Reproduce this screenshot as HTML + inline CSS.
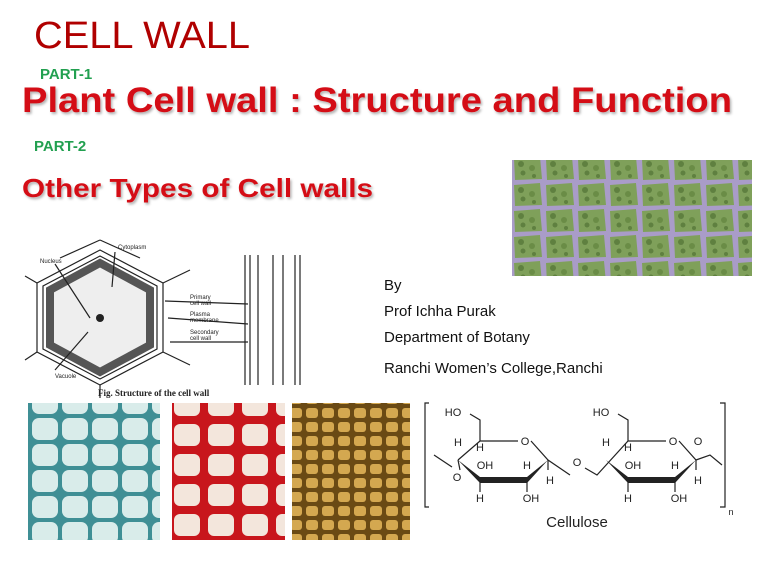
<!DOCTYPE html>
<html><head><meta charset="utf-8"><style>
html,body{margin:0;padding:0;background:#fff;}
svg{display:block;}
text{font-family:"Liberation Sans",Arial,sans-serif;}
</style></head><body>
<svg width="768" height="576" viewBox="0 0 768 576" xmlns="http://www.w3.org/2000/svg">
<defs>
<filter id="sh" x="-5%" y="-20%" width="110%" height="150%"><feDropShadow dx="1.5" dy="2" stdDeviation="1.2" flood-color="#000" flood-opacity="0.3"/></filter>
<pattern id="grn" width="32" height="26" patternUnits="userSpaceOnUse">
<rect width="32" height="26" fill="#a99cc8"/>
<path d="M2 3 L28 1 L30 23 L3 24 Z" fill="#7fa05a"/>
<circle cx="9" cy="8" r="3" fill="#5f8040"/><circle cx="20" cy="12" r="3" fill="#6a8c46"/><circle cx="11" cy="17" r="2.5" fill="#5f8040"/><circle cx="22" cy="20" r="2" fill="#5f8040"/>
</pattern>
<pattern id="teal" width="30" height="26" patternUnits="userSpaceOnUse">
<rect width="30" height="26" fill="#3f8f95"/>
<rect x="2" y="2" width="26" height="22" rx="7" fill="#d9ecea"/>
</pattern>
<pattern id="red" width="34" height="30" patternUnits="userSpaceOnUse">
<rect width="34" height="30" fill="#c8161c"/>
<rect x="4" y="4" width="26" height="22" rx="6" fill="#f3e6dc"/>
</pattern>
<pattern id="brn" width="16" height="14" patternUnits="userSpaceOnUse">
<rect width="16" height="14" fill="#6a4a14"/>
<rect x="2" y="2" width="12" height="10" rx="3" fill="#d4a850"/>
</pattern>
</defs>

<text x="34" y="48" font-size="38" fill="#b00000" textLength="216" lengthAdjust="spacingAndGlyphs">CELL  WALL</text>
<text x="40" y="79" font-size="15" font-weight="bold" fill="#22a050">PART-1</text>
<text x="22" y="112" font-size="35" font-weight="bold" fill="#d40f14" filter="url(#sh)" textLength="710" lengthAdjust="spacingAndGlyphs">Plant Cell wall : Structure and Function</text>
<text x="34" y="151" font-size="15" font-weight="bold" fill="#22a050">PART-2</text>
<text x="22" y="197" font-size="26" font-weight="bold" fill="#d40f14" filter="url(#sh)" textLength="351" lengthAdjust="spacingAndGlyphs">Other Types of Cell walls</text>

<rect x="512" y="160" width="240" height="116" fill="url(#grn)"/>

<g stroke="#222" fill="none" stroke-width="1.2">
<polygon points="100,263 150,290 150,345 100,372 50,345 50,290" fill="#eee" stroke-width="8" stroke="#555"/>
<polygon points="100,256 157,286 157,349 100,379 43,349 43,286"/>
<polygon points="100,250 163,283 163,352 100,385 37,352 37,283"/>
<path d="M60 258 L100 240 M140 258 L100 240 M163 283 L190 270 M163 352 L190 365 M37 283 L25 276 M37 352 L25 360 M100 385 L100 398"/>
<path d="M245 255 V385 M250 255 V385 M258 255 V385 M273 255 V385 M283 255 V385 M295 255 V385 M300 255 V385"/>
<path d="M55 264 L90 318 M115 252 L112 287 M165 301 L248 304 M168 318 L248 324 M170 342 L248 342 M55 370 L88 332"/>
</g>
<circle cx="100" cy="318" r="4" fill="#222"/>
<g font-size="6" fill="#222">
<text x="40" y="263">Nucleus</text><text x="118" y="249">Cytoplasm</text>
<text x="190" y="299">Primary</text><text x="190" y="305">cell wall</text>
<text x="190" y="316">Plasma</text><text x="190" y="322">membrane</text>
<text x="190" y="334">Secondary</text><text x="190" y="340">cell wall</text>
<text x="55" y="378">Vacuole</text>
</g>
<text x="98" y="396" font-size="9" font-weight="bold" font-family="Liberation Serif,serif" fill="#222" style="font-family:'Liberation Serif',serif">Fig. Structure of the cell wall</text>

<g font-size="15" fill="#111">
<text x="384" y="290">By</text>
<text x="384" y="316">Prof Ichha Purak</text>
<text x="384" y="342">Department of Botany</text>
<text x="384" y="373">Ranchi Women’s College,Ranchi</text>
</g>

<rect x="28" y="403" width="132" height="137" fill="url(#teal)"/>
<rect x="172" y="403" width="113" height="137" fill="url(#red)"/>
<rect x="292" y="403" width="118" height="137" fill="url(#brn)"/>

<g stroke="#222" fill="none" stroke-width="1.2">
<path d="M429 403 H425 V507 H429 M720 403 H725 V507 H720"/>
<path d="M434 455 L452 467 M458 460 L480 441 L518 441 M531 441 L548 460 L570 475 M585 468 L597 475 L628 441 L666 441 M679 441 L696 460 L710 455 L722 465"/>
<path d="M458 460 L460 470 M480 441 L480 420 L470 414 M628 441 L628 420 L618 414 M480 480 V492 M527 480 V492 M675 480 V492 M628 480 V492 M548 460 V470 M696 460 V470"/>
</g>
<g fill="#222">
<polygon points="458,460 480,477 527,477 548,460 527,483 480,483"/>
<polygon points="606,460 628,477 675,477 696,460 675,483 628,483"/>
</g>
<g font-size="11" fill="#222" text-anchor="middle">
<text x="453" y="416">HO</text><text x="601" y="416">HO</text>
<text x="525" y="445">O</text><text x="673" y="445">O</text><text x="698" y="445">O</text>
<text x="577" y="466">O</text><text x="457" y="481">O</text>
<text x="458" y="446">H</text><text x="480" y="451">H</text><text x="485" y="469">OH</text><text x="527" y="469">H</text><text x="550" y="484">H</text>
<text x="480" y="502">H</text><text x="531" y="502">OH</text>
<text x="606" y="446">H</text><text x="628" y="451">H</text><text x="633" y="469">OH</text><text x="675" y="469">H</text><text x="698" y="484">H</text>
<text x="628" y="502">H</text><text x="679" y="502">OH</text>
<text x="731" y="515" font-size="9">n</text>
<text x="577" y="527" font-size="15">Cellulose</text>
</g>
</svg>
</body></html>
